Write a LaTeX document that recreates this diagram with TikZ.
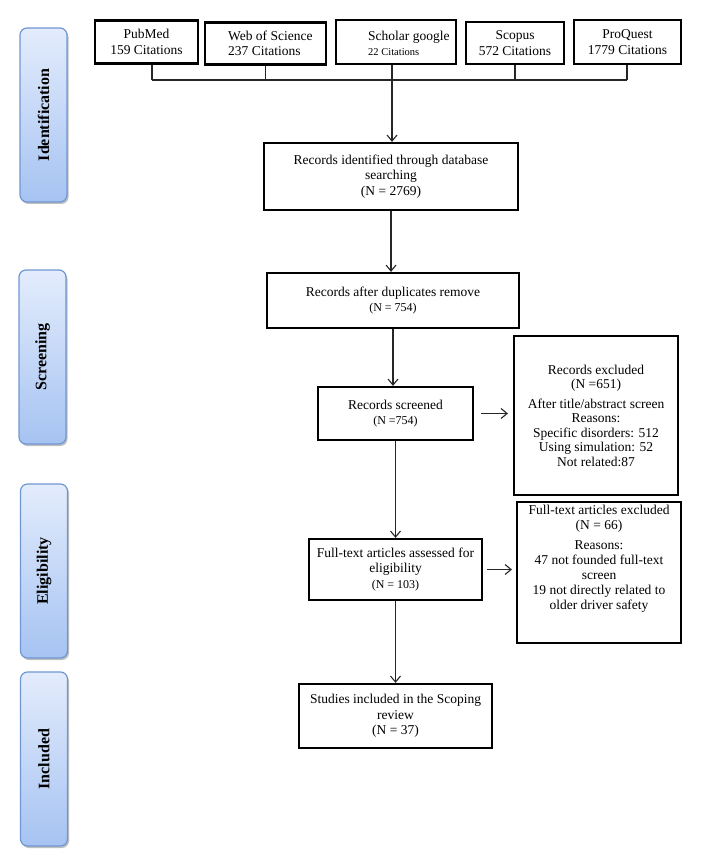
\documentclass[tikz,border=0pt]{standalone}
\usepackage{fontspec}
\setmainfont{Liberation Serif}
\usetikzlibrary{arrows.meta,shadows}
\definecolor{paneltop}{HTML}{E3ECFC}
\definecolor{panelbot}{HTML}{A6C3F2}
\definecolor{panelborder}{HTML}{6F97D3}
\begin{document}
\begin{tikzpicture}[x=1pt,y=-1pt,
  box/.style={draw=black, line width=2.2pt, fill=white, inner sep=0pt, align=center,
    font=\fontsize{13.5}{15.5}\selectfont},
  boxtext/.style={inner sep=0pt, align=center, font=\fontsize{13.5}{15}\selectfont},
  phase/.style={draw=panelborder, line width=1.2pt, rounded corners=7pt,
    top color=paneltop, bottom color=panelbot,
    drop shadow={shadow xshift=1.5pt, shadow yshift=-2pt, opacity=0.25, fill=black}},
  phasetext/.style={rotate=90, inner sep=0pt, font=\fontsize{16}{18}\selectfont\bfseries},
  conn/.style={line width=1.1pt, draw=black!85},
  arr/.style={conn, -{Straight Barb[length=6pt,width=10pt]}},
  nsmall/.style={font=\fontsize{12}{14}\selectfont}
]
\useasboundingbox (0,0) rectangle (724,858);

% phase panels
\node[phase, minimum width=47pt, minimum height=174pt] (pid) at (43.5,115) {};
\node[phasetext] at (pid.center) {Identification};
\node[phase, minimum width=47pt, minimum height=174pt] (pscr) at (42.5,357) {};
\node[phasetext] at (pscr.center) {Screening};
\node[phase, minimum width=47pt, minimum height=174pt] (pel) at (44,571) {};
\node[phasetext] at (pel.center) {Eligibility};
\node[phase, minimum width=47pt, minimum height=174pt] (pinc) at (44,759) {};
\node[phasetext] at (pinc.center) {Included};

% sources
\node[box, minimum width=103pt, minimum height=43pt] (pub) at (146.5,42) {PubMed\\159 Citations};
\node[box, minimum width=121pt, minimum height=42pt] (wos) at (265.5,43.5) {};
\node[boxtext, anchor=west, align=left] (wost) at (228,43.5) {Web of Science\\237 Citations};
\node[box, minimum width=120pt, minimum height=44pt] (sch) at (396,42) {};
\node[boxtext, anchor=west, align=left] (scht) at (368,43) {Scholar google\\{\fontsize{10.5}{12}\selectfont 22 Citations}};
\node[box, minimum width=98pt, minimum height=42pt] (sco) at (515,43) {Scopus\\572 Citations};
\node[box, minimum width=107pt, minimum height=44pt] (pro) at (627.5,42) {ProQuest\\1779 Citations};

\coordinate (bl) at (152,80);
\coordinate (br) at (627,80);
\coordinate (bus) at (392,80);
\draw[conn] (bl) -- (br);
\draw[conn] (bl |- pub.south) -- (bl);
\draw[conn] (wos.south) -- (wos.south |- bl);
\draw[conn] (bus |- sch.south) -- (bus);
\draw[conn] (sco.south) -- (sco.south |- bl);
\draw[conn] (br |- pro.south) -- (br);

% main flow
\node[box, minimum width=254pt, minimum height=67pt] (rid) at (391,176.5)
  {Records identified through database\\searching\\(N = 2769)};
\node[box, minimum width=252pt, minimum height=55pt] (dup) at (393,300.5)
  {Records after duplicates remove\\{\fontsize{12}{14}\selectfont (N = 754)}};
\node[box, minimum width=155pt, minimum height=53pt] (scr) at (395.5,413.5)
  {Records screened\\{\fontsize{12}{14}\selectfont (N =754)}};
\node[box, minimum width=164pt, minimum height=159pt, font=\fontsize{13.5}{14.5}\selectfont] (exc) at (596,415.5)
  {Records excluded\\(N =651)\\[5pt]After title/abstract screen\\Reasons:\\Specific disorders: 512\\Using simulation: 52\\Not related:87};
\node[box, minimum width=173pt, minimum height=61pt] (ft) at (395.5,569.5)
  {Full-text articles assessed for\\eligibility\\{\fontsize{12}{14}\selectfont (N = 103)}};
\node[box, minimum width=164pt, minimum height=141pt] (ftx) at (599,572.5) {};
\node[boxtext, anchor=north] (ftxt) at ([yshift=-4pt]ftx.north)
  {Full-text articles excluded\\(N = 66)\\[5pt]Reasons:\\47 not founded full-text\\screen\\19 not directly related to\\older driver safety};
\node[box, minimum width=193pt, minimum height=64pt] (inc) at (395.5,716)
  {Studies included in the Scoping\\review\\(N = 37)};

\draw[arr] (bus) -- (bus |- rid.north);
\draw[arr] (rid.south) -- (rid.south |- dup.north);
\draw[arr] (dup.south) -- (dup.south |- scr.north);
\draw[arr] (scr.south) -- (scr.south |- ft.north);
\draw[arr] (ft.south) -- (ft.south |- inc.north);
\draw[arr] ([xshift=7pt]scr.east) -- ([xshift=-5pt]scr.east -| exc.west);
\draw[arr] ([xshift=4pt]ft.east) -- ([xshift=-4pt]ft.east -| ftx.west);
\end{tikzpicture}
\end{document}
